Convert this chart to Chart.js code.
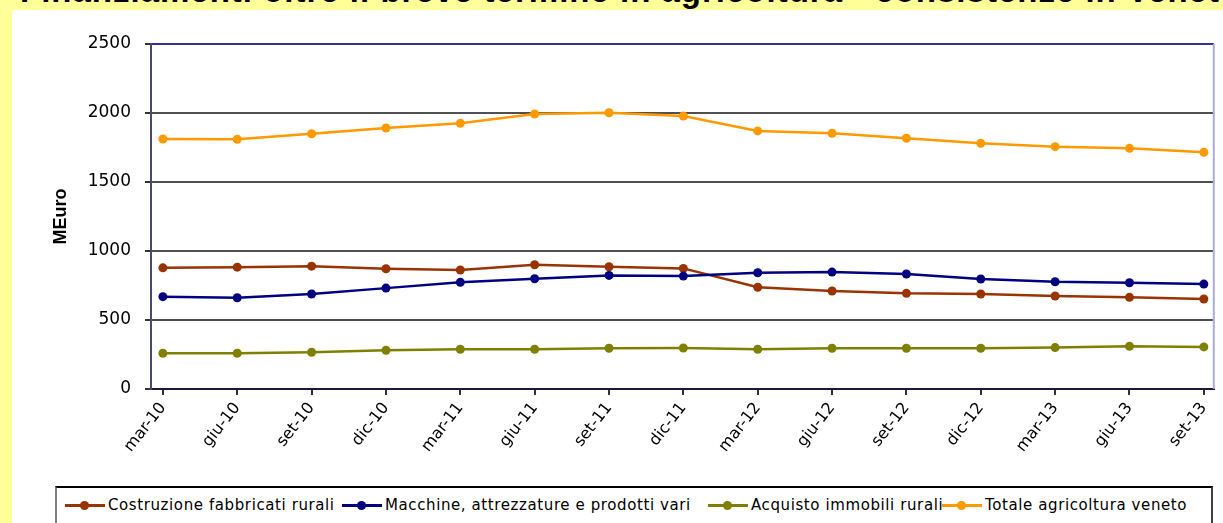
<!DOCTYPE html>
<html>
<head>
<meta charset="utf-8">
<script src="https://cdn.jsdelivr.net/npm/chart.js@4.4.0/dist/chart.umd.min.js"></script>
<style>
  html, body { margin: 0; padding: 0; }
  body { width: 1223px; height: 523px; background: #ffff99; position: relative; overflow: hidden; font-family: "Liberation Sans", Arial, sans-serif; }
  #title { position: absolute; left: 20px; top: -26px; font-weight: bold; font-size: 33px; line-height: 33px; letter-spacing: 1px; white-space: nowrap; color: #000; }
  #wrap { position: absolute; left: 12px; top: 10px; width: 1211px; height: 513px; background: #fff; }
  #legend { position: absolute; left: 55px; top: 486px; width: 1154px; height: 45px; border-top: 2px solid #000; border-left: 2px solid #808080; border-right: 2px solid #404040; background: #fff; }
  .item { position: absolute; top: 8px; display: flex; align-items: center; font: 15px "DejaVu Sans", sans-serif; letter-spacing: 0.6px; white-space: nowrap; color: #000; }
  .sw { position: relative; width: 40px; height: 3px; margin-right: 3px; }
  .sw i { position: absolute; left: 15px; top: -3px; width: 9px; height: 9px; border-radius: 50%; }
</style>
</head>
<body>
<div id="title">Finanziamenti oltre il breve termine in agricoltura - consistenze in Veneto</div>
<div id="wrap"><canvas id="chart" width="1211" height="513"></canvas></div>
<div id="legend"></div>
<script>
// trimestri
const labels = ['mar-10', 'giu-10', 'set-10', 'dic-10', 'mar-11', 'giu-11', 'set-11', 'dic-11',
  'mar-12', 'giu-12', 'set-12', 'dic-12', 'mar-13', 'giu-13', 'set-13']

// consistenze, MEuro
const costruzione = [878, 883, 890, 871, 862, 900, 886, 874, 737, 710, 693, 688, 674, 664, 652]
const macchine = [669, 661, 688, 731, 773, 799, 823, 818, 842, 847, 833, 797, 777, 770, 760]
const acquisto = [259, 259, 266, 281, 288, 288, 295, 297, 288, 295, 295, 295, 300, 310, 305]
const totale = [1812, 1810, 1850, 1891, 1925, 1993, 2002, 1978, 1870, 1853, 1817, 1780, 1756, 1744, 1715]

const yTicks = [0, 500, 1000, 1500, 2000, 2500]

const seriesNames = ['Costruzione fabbricati rurali', 'Macchine, attrezzature e prodotti vari',
  'Acquisto immobili rurali', 'Totale agricoltura veneto']
const seriesValues = [costruzione, macchine, acquisto, totale]
const seriesColors = ['#993300', '#000080', '#808000', '#ff9900']
const legendLeft = [8, 285, 651, 885]

const datasets = seriesNames.map(function (name, k) {
  return {
    label: name,
    data: seriesValues[k].map((v, i) => ({ x: i, y: v })),
    borderColor: seriesColors[k],
    backgroundColor: seriesColors[k],
    borderWidth: 2.5,
    pointRadius: 4.5,
    pointBorderWidth: 0,
    pointBackgroundColor: seriesColors[k],
    tension: 0,
    order: 4 - k
  }
})

// bordo destro dell'area del grafico
const frame = {
  id: 'frame',
  afterDraw (chart) {
    const { ctx, chartArea } = chart
    ctx.save()
    ctx.strokeStyle = '#aaaadd'
    ctx.lineWidth = 2
    ctx.beginPath()
    ctx.moveTo(chartArea.right, chartArea.top)
    ctx.lineTo(chartArea.right, chartArea.bottom)
    ctx.stroke()
    ctx.restore()
  }
}

new Chart(document.getElementById('chart'), {
  type: 'line',
  data: { datasets: datasets },
  plugins: [frame],
  options: {
    responsive: false,
    animation: false,
    layout: { padding: { top: 34, right: 2, bottom: 37, left: 0 } },
    plugins: { legend: { display: false }, tooltip: { enabled: false } },
    scales: {
      x: {
        type: 'linear',
        min: -0.16,
        max: 14.134,
        afterBuildTicks: s => { s.ticks = labels.map((l, i) => ({ value: i })) },
        afterFit: s => { s.height = 97 },
        ticks: {
          callback: v => labels[v],
          autoSkip: false,
          minRotation: 52,
          maxRotation: 52,
          padding: 4,
          color: '#000',
          font: { family: 'DejaVu Sans', size: 16 }
        },
        grid: { drawOnChartArea: false, tickLength: 6, tickColor: '#333', lineWidth: 2 },
        border: { color: '#1a1a3a', width: 2 }
      },
      y: {
        min: 0,
        max: 2500,
        afterBuildTicks: s => { s.ticks = yTicks.map(v => ({ value: v })) },
        afterFit: s => { s.width = 139 },
        ticks: {
          callback: v => String(v),
          padding: 14,
          color: '#000',
          font: { family: 'DejaVu Sans', size: 17 }
        },
        grid: {
          color: c => (c.tick && c.tick.value === 2500 ? '#333399' : '#505050'),
          lineWidth: 2,
          tickLength: 6,
          tickColor: '#333'
        },
        border: { color: '#4a4a66', width: 2 },
        title: {
          display: true,
          text: 'MEuro',
          color: '#000',
          font: { family: 'Liberation Sans', size: 18, weight: 'bold' },
          padding: { top: 38, bottom: 0 }
        }
      }
    }
  }
})

const legend = document.getElementById('legend')
seriesNames.forEach(function (name, k) {
  legend.insertAdjacentHTML('beforeend', `
    <div class="item" style="left:${legendLeft[k]}px">
      <span class="sw" style="background:${seriesColors[k]}"><i style="background:${seriesColors[k]}"></i></span>${name}
    </div>`)
})
</script>
</body>
</html>
